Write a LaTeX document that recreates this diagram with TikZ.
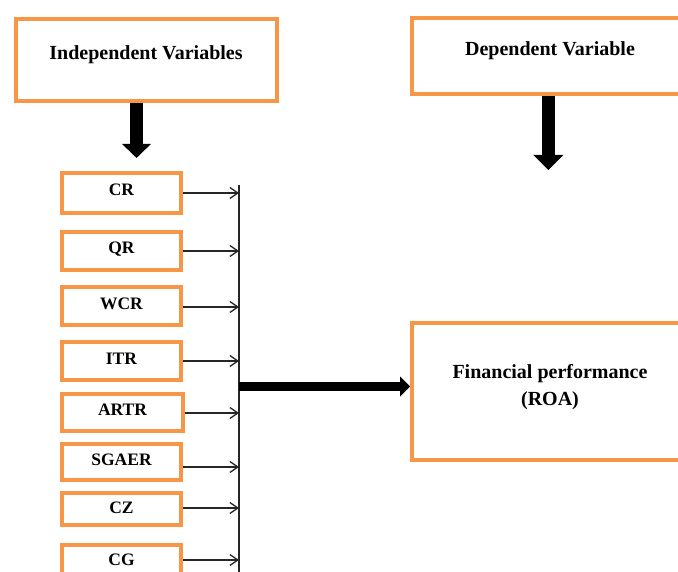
\documentclass[tikz,border=0pt]{standalone}
\usepackage{fontspec}
\setmainfont{Liberation Serif}
\usetikzlibrary{arrows.meta}
\definecolor{boxorange}{HTML}{F79646}
\tikzset{
  bigbox/.style={draw=boxorange, line width=3.6pt, fill=white, inner sep=0pt},
  smallbox/.style={draw=boxorange, line width=3.6pt, fill=white, inner sep=0pt,
    minimum width=119pt, text height=12pt, text depth=6pt,
    font=\fontsize{17.5}{20}\selectfont\bfseries},
  bigtext/.style={font=\fontsize{20}{27}\selectfont\bfseries, inner sep=0pt, align=center},
  thinarrow/.style={draw=black!85, line width=1.3pt, -{Straight Barb[length=8pt,width=11pt,line width=1.3pt]}},
  busline/.style={draw=black!85, line width=1.3pt},
  blockarrow/.style={draw=black, line width=#1},
}
\begin{document}
\begin{tikzpicture}[x=1pt,y=-1pt]
\useasboundingbox (0,0) rectangle (678,572);
\clip (0,0) rectangle (678,572);
\fill[white] (0,0) rectangle (678,572);

% top boxes
\node[bigbox, minimum width=261pt, minimum height=82pt] (indep) at (146.5,60) {};
\node[bigtext] (indeptext) at (146,55) {Independent Variables};
\node[bigbox, minimum width=290pt, minimum height=76pt] (dep) at (557,56) {};
\node[bigtext] (deptext) at (550,51) {Dependent Variable};

% financial performance box
\node[bigbox, minimum width=290pt, minimum height=137pt] (fin) at (557,391.5) {};
\node[bigtext] (fintext) at (550,387.5) {Financial performance\\(ROA)};

% small boxes
\node[smallbox, minimum height=40pt] (cr) at (121.5,193) {CR};
\node[smallbox, minimum height=38pt] (qr) at (121.5,251) {QR};
\node[smallbox, minimum height=38pt] (wcr) at (121.5,306) {WCR};
\node[smallbox, minimum height=38pt] (itr) at (121.5,361) {ITR};
\node[smallbox, minimum height=37pt, minimum width=121pt] (artr) at (122.5,412.5) {ARTR};
\node[smallbox, minimum height=36pt] (sgaer) at (121.5,462) {SGAER};
\node[smallbox, minimum height=32pt, text depth=4pt] (cz) at (121.5,509) {CZ};
\node[smallbox, minimum height=45pt, text height=12pt, text depth=17pt] (cg) at (121.5,567.5) {CG};

% bus line
\coordinate (bustop) at (239,185);
\coordinate (busbot) at (239,574);
\draw[busline] (bustop) -- (busbot);

% thin arrows into the bus
\foreach \n/\yy in {cr/193, qr/251, wcr/307, itr/361, artr/413, sgaer/467, cz/508, cg/560}{
  \coordinate (bus-\n) at (239,\yy);
  \draw[thinarrow] (\n.east |- bus-\n) -- (bus-\n);
}

% big arrows
\coordinate (ia) at (136.5,158);
\draw[blockarrow=13pt, -{Triangle[length=14pt,width=28pt]}] (ia |- indep.south) -- (ia);
\coordinate (da) at (548.3,170);
\draw[blockarrow=13pt, -{Triangle[length=15pt,width=29pt]}] (da |- dep.south) -- (da);
\coordinate (busmid) at (238.5,386.5);
\draw[blockarrow=9pt, -{Triangle[length=10pt,width=19pt]}] (busmid) -- (busmid -| fin.west);
\end{tikzpicture}
\end{document}
